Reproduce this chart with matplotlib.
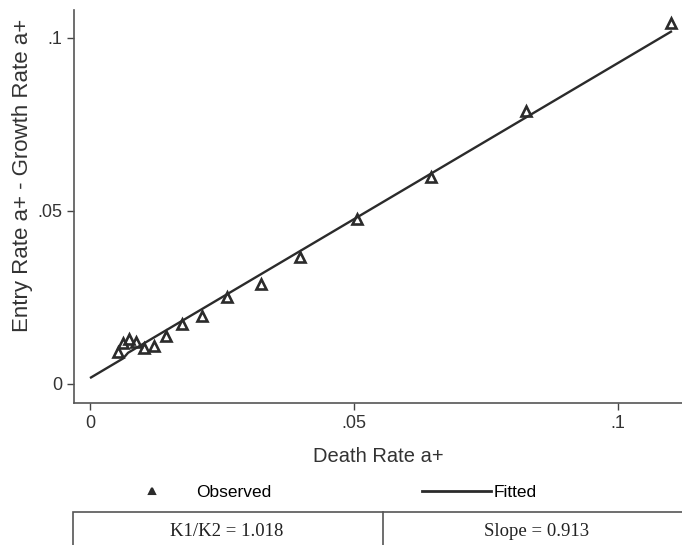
import numpy as np
import matplotlib.pyplot as plt
from matplotlib.lines import Line2D
from matplotlib.patches import Rectangle

# dados
death_rate = [0.0053, 0.0063, 0.0074, 0.0087, 0.0102, 0.0121, 0.0144, 0.0174,
              0.0212, 0.0259, 0.0324, 0.0398, 0.0506, 0.0646, 0.0826, 0.1100]
entry_minus_growth = [0.0092, 0.0118, 0.0130, 0.0121, 0.0104, 0.0110, 0.0139, 0.0173,
                      0.0197, 0.0251, 0.0289, 0.0367, 0.0477, 0.0598, 0.0789, 0.1043]

# linha ajustada (com o pequeno degrau perto da origem)
fit_x = [0.0, 0.0063, 0.0072, 0.1102]
fit_y = [0.0017, 0.0074, 0.0090, 0.1020]

xticks = [0, 0.05, 0.1]
xtick_labels = ['0', '.05', '.1']
yticks = [0, 0.05, 0.1]
ytick_labels = ['0', '.05', '.1']

table_cells = ['K1/K2 = 1.018', 'Slope = 0.913']

dark = '#2b2b2b'
plt.rcParams['font.family'] = ['Liberation Sans', 'DejaVu Sans']

fig = plt.figure(figsize=(6.82, 5.45), dpi=100)
ax = fig.add_axes([0.1085, 0.2606, 0.8915, 0.7211])

ax.plot(fit_x, fit_y, color=dark, lw=1.7, solid_capstyle='butt', zorder=2)
ax.plot(death_rate, entry_minus_growth, ls='none', marker='^', ms=7,
        mfc='none', mec=dark, mew=1.9, zorder=3)

ax.set_xlim(-0.00303, 0.1121)
ax.set_ylim(-0.0055, 0.1081)
ax.set_xticks(xticks)
ax.set_xticklabels(xtick_labels)
ax.set_yticks(yticks)
ax.set_yticklabels(ytick_labels)
ax.tick_params(direction='out', length=5, width=1, colors='#444444',
               labelsize=13, labelcolor='#333333')
for s in ['top', 'right']:
    ax.spines[s].set_visible(False)
for s in ['left', 'bottom']:
    ax.spines[s].set_color('#555555')
    ax.spines[s].set_linewidth(1.2)

ax.set_xlabel('Death Rate a+', fontsize=14.5, color='#333333', labelpad=11)
ax.set_ylabel('Entry Rate a+ - Growth Rate a+', fontsize=16, color='#333333')
ax.yaxis.set_label_coords(-0.067, 0.578)

# legenda
h_obs = Line2D([], [], ls='none', marker='^', ms=5, mfc=dark, mec=dark, mew=1.5)
h_fit = Line2D([], [], color=dark, lw=2)
fig.legend([h_obs], ['Observed'], loc='center left', bbox_to_anchor=(142 / 682, 1 - 492 / 545),
           frameon=False, fontsize=12.5, handlelength=1.2, handletextpad=1.9,
           borderpad=0, borderaxespad=0)
fig.legend([h_fit], ['Fitted'], loc='center left', bbox_to_anchor=(422 / 682, 1 - 492 / 545),
           frameon=False, fontsize=12.5, handlelength=4.0, handletextpad=0.15,
           borderpad=0, borderaxespad=0)

# tabela
fig.add_artist(Rectangle((73 / 682, -0.05), 1.0, 1 - 512 / 545 + 0.05,
                         transform=fig.transFigure, fill=False, ec='#555555', lw=1.2))
fig.add_artist(Line2D([383 / 682, 383 / 682], [0, 1 - 512 / 545],
                      transform=fig.transFigure, color='#555555', lw=1.2))
fig.text(227 / 682, 1 - 531 / 545, table_cells[0], ha='center', va='center',
         fontsize=13.5, family='Liberation Serif', color='#222222')
fig.text(537 / 682, 1 - 531 / 545, table_cells[1], ha='center', va='center',
         fontsize=13.5, family='Liberation Serif', color='#222222')

plt.savefig('out.png', dpi=100)
